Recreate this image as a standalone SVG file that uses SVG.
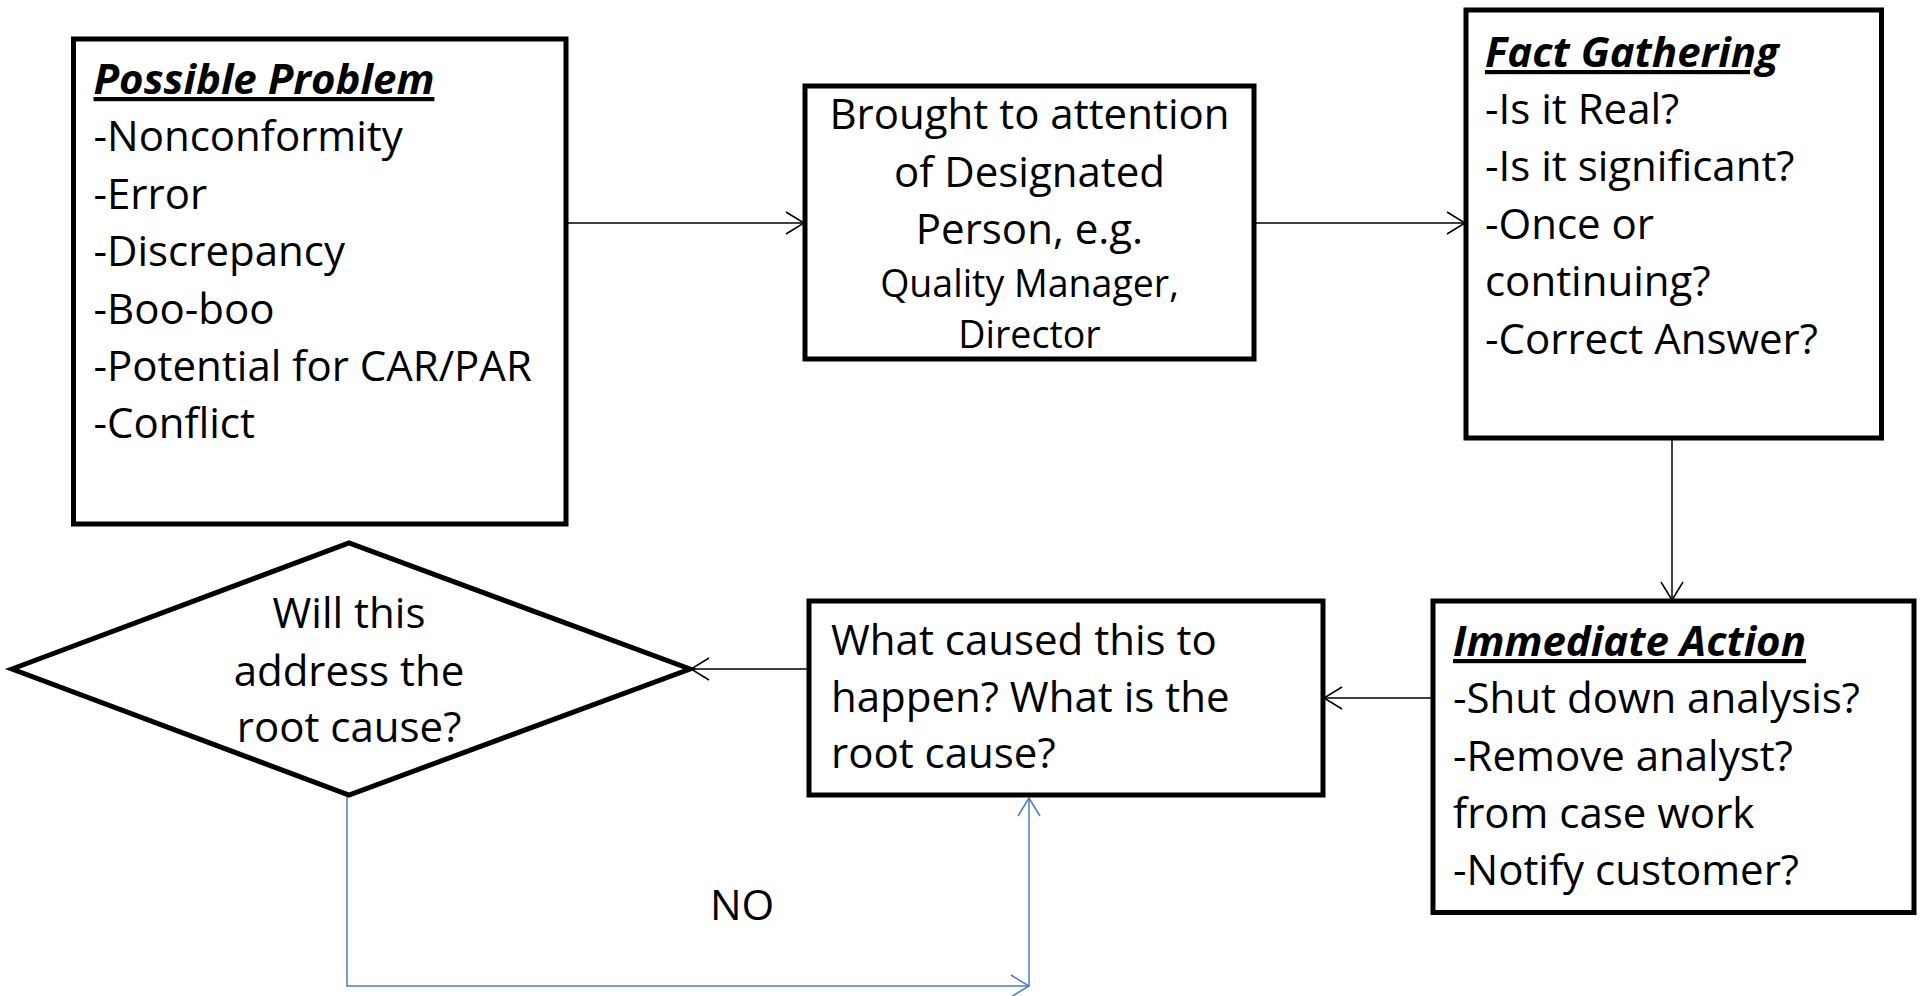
<svg xmlns="http://www.w3.org/2000/svg" width="1921" height="996" viewBox="0 0 1921 996">
<style>
.box{fill:#fff;stroke:#000;stroke-width:5}
.t{font-family:"Open Sans",Lato,"Liberation Sans",sans-serif;font-size:42px;fill:#000}
.s{font-size:37.5px}
.h{font-weight:bold;font-style:italic;text-decoration:underline}
.c{text-anchor:middle}
.ln{fill:none;stroke:#000;stroke-width:1.5}
.bl{fill:none;stroke:#4A7EBB;stroke-width:1.5}
</style>
<defs>
<marker id="ab" markerUnits="userSpaceOnUse" markerWidth="22" markerHeight="26" refX="19" refY="13" orient="auto">
<path d="M1,2 L19,13 L1,24" fill="none" stroke="#000" stroke-width="1.5"/>
</marker>
<marker id="au" markerUnits="userSpaceOnUse" markerWidth="22" markerHeight="26" refX="19" refY="13" orient="auto">
<path d="M1,2 L19,13 L1,24" fill="none" stroke="#4A7EBB" stroke-width="1.5"/>
</marker>
</defs>
<rect width="1921" height="996" fill="#fff"/>
<g id="connectors">
<line class="ln" x1="566" y1="223" x2="804" y2="223" marker-end="url(#ab)"/>
<line class="ln" x1="1254" y1="223" x2="1465" y2="223" marker-end="url(#ab)"/>
<line class="ln" x1="1672" y1="438" x2="1672" y2="600" marker-end="url(#ab)"/>
<line class="ln" x1="1433" y1="698" x2="1324" y2="698" marker-end="url(#ab)"/>
<line class="ln" x1="808" y1="669" x2="691" y2="669" marker-end="url(#ab)"/>
<polyline class="bl" points="347,795 347,986 1029,986" marker-end="url(#au)"/>
<line class="bl" x1="1029" y1="986" x2="1029" y2="798" marker-end="url(#au)"/>
</g>
<g id="possible-problem">
<rect class="box" x="73.5" y="39" width="492.5" height="485"/>
<text class="t h" x="93.5" y="94">Possible Problem</text>
<text class="t" x="93.5" y="151">-Nonconformity</text>
<text class="t" x="93.5" y="208.5">-Error</text>
<text class="t" x="93.5" y="266">-Discrepancy</text>
<text class="t" x="93.5" y="323.5">-Boo-boo</text>
<text class="t" x="93.5" y="381">-Potential for CAR/PAR</text>
<text class="t" x="93.5" y="438">-Conflict</text>
</g>
<g id="brought-to-attention">
<rect class="box" x="805" y="86" width="449" height="273"/>
<text class="t c" x="1029.5" y="129">Brought to attention</text>
<text class="t c" x="1029.5" y="187">of Designated</text>
<text class="t c" x="1029.5" y="244">Person, e.g.</text>
<text class="t s c" x="1029.5" y="297">Quality Manager,</text>
<text class="t s c" x="1029.5" y="348">Director</text>
</g>
<g id="fact-gathering">
<rect class="box" x="1466" y="10" width="415.5" height="428"/>
<text class="t h" x="1485" y="67">Fact Gathering</text>
<text class="t" x="1485" y="124">-Is it Real?</text>
<text class="t" x="1485" y="181">-Is it significant?</text>
<text class="t" x="1485" y="239">-Once or</text>
<text class="t" x="1485" y="296">continuing?</text>
<text class="t" x="1485" y="353.5">-Correct Answer?</text>
</g>
<g id="immediate-action">
<rect class="box" x="1433" y="601" width="481" height="311.5"/>
<text class="t h" x="1453" y="656">Immediate Action</text>
<text class="t" x="1453" y="713">-Shut down analysis?</text>
<text class="t" x="1453" y="770.5">-Remove analyst?</text>
<text class="t" x="1453" y="828">from case work</text>
<text class="t" x="1453" y="885">-Notify customer?</text>
</g>
<g id="root-cause">
<rect class="box" x="809" y="601" width="514" height="194"/>
<text class="t" x="831" y="655">What caused this to</text>
<text class="t" x="831" y="712">happen? What is the</text>
<text class="t" x="831" y="768">root cause?</text>
</g>
<g id="decision">
<polygon class="box" points="12,669 349,543 690,669 349,795"/>
<text class="t c" x="349" y="628">Will this</text>
<text class="t c" x="349" y="685.5">address the</text>
<text class="t c" x="349" y="741.5">root cause?</text>
</g>
<g id="no-label">
<text class="t" x="710" y="920">NO</text>
</g>
</svg>
